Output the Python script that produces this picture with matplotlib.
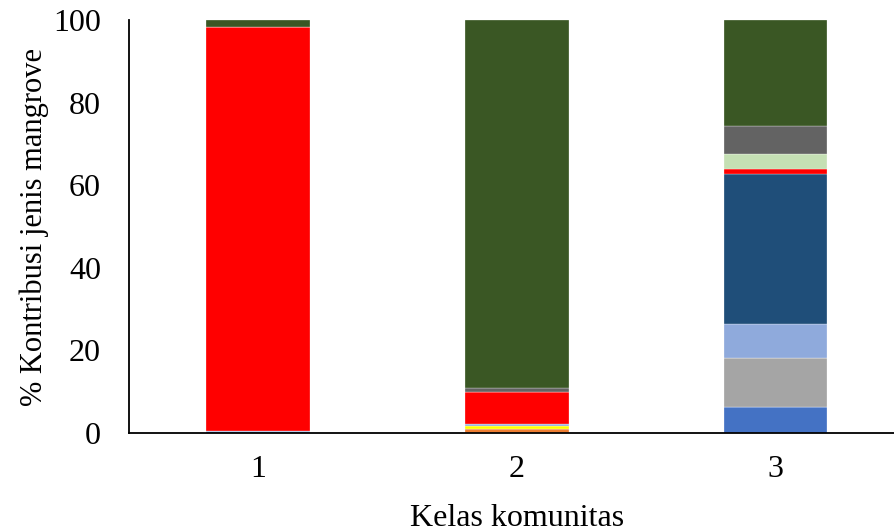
import matplotlib
matplotlib.use("Agg")
import matplotlib.pyplot as plt
import numpy as np

plt.rcParams["font.family"] = ["Liberation Serif", "DejaVu Serif"]

categories = ["1", "2", "3"]

# stacked segments, bottom to top (% contribution per community class)
blue = [0.6, 0.0, 6.2]
orange = [0.0, 0.9, 0.0]
grey = [0.0, 0.0, 11.9]
yellow = [0.0, 0.9, 0.0]
light_blue = [0.0, 0.4, 8.2]
dark_blue = [0.0, 0.0, 36.5]
red = [97.8, 7.7, 1.1]
light_green = [0.0, 0.0, 3.6]
dark_grey = [0.0, 1.0, 6.8]
dark_green = [1.6, 89.1, 25.7]

series = [
    (blue, "#4472C4"),
    (orange, "#ED7D31"),
    (grey, "#A5A5A5"),
    (yellow, "#FFFF00"),
    (light_blue, "#8FAADC"),
    (dark_blue, "#1F4E79"),
    (red, "#FF0000"),
    (light_green, "#C5E0B4"),
    (dark_grey, "#636363"),
    (dark_green, "#3A5724"),
]

fig = plt.figure(figsize=(8.95, 5.31), dpi=100)
ax = fig.add_axes([128.7 / 895, 98 / 531, 776.4 / 895, 413 / 531])

ind = np.arange(1, len(categories) + 1)
bottom = np.zeros(len(categories))
for vals, col in series:
    ax.bar(ind, vals, width=0.4, bottom=bottom, color=col,
           edgecolor="white", linewidth=0.2)
    bottom += np.array(vals)

ax.set_xlim(0.5, 3.5)
ax.set_ylim(0, 100)
ax.set_yticks([0, 20, 40, 60, 80, 100])
ax.set_xticks(ind)
ax.set_xticklabels(categories)
ax.tick_params(axis="both", length=0, labelsize=23)
ax.tick_params(axis="y", pad=20)
ax.tick_params(axis="x", pad=16)

for side in ["top", "right"]:
    ax.spines[side].set_visible(False)
for side in ["left", "bottom"]:
    ax.spines[side].set_linewidth(1.3)
    ax.spines[side].set_color("black")

ax.set_xlabel("Kelas komunitas", fontsize=23, labelpad=14)
ax.set_ylabel("% Kontribusi jenis mangrove", fontsize=22, labelpad=3)

fig.savefig("out.png", dpi=100)
